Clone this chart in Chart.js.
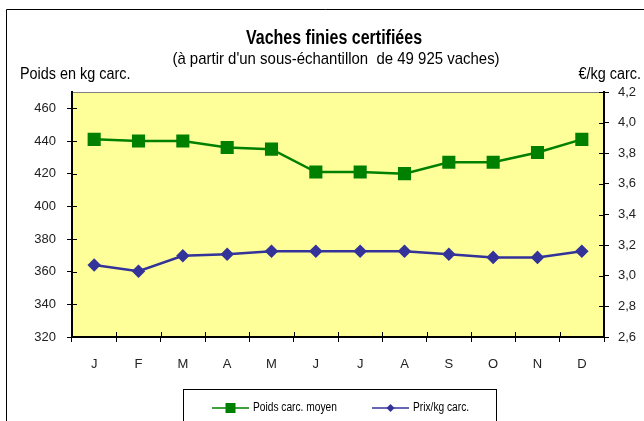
<!DOCTYPE html>
<html>
<head>
<meta charset="utf-8">
<script src="https://cdn.jsdelivr.net/npm/chart.js@4"></script>
<style>
  html, body { margin: 0; padding: 0; background: #fff; }
  #wrap { width: 644px; height: 421px; }
</style>
</head>
<body>
<div id="wrap"><canvas id="chart1" width="644" height="421"></canvas></div>
<script>
const months = ["J", "F", "M", "A", "M", "J", "J", "A", "S", "O", "N", "D"];
const poids = [441, 440, 440, 436, 435, 421, 421, 420, 427, 427, 433, 441];
const prix = [3.07, 3.03, 3.13, 3.14, 3.16, 3.16, 3.16, 3.16, 3.14, 3.12, 3.12, 3.16];
const labelPoids = "Poids carc. moyen";
const labelPrix = "Prix/kg carc.";

const FONT = "'Liberation Sans', Arial, sans-serif";

function comma(v) {
  return v.toFixed(1).replace(".", ",");
}

// texte resserré (police étroite simulée)
function narrowText(ctx, text, x, y, sx) {
  ctx.save();
  ctx.translate(x, y);
  ctx.scale(sx, 1);
  ctx.fillText(text, 0, 0);
  ctx.restore();
}

// fond jaune, cadre, titres et légende
const decor = {
  id: "decor",
  beforeDraw(chart) {
    const ctx = chart.ctx;
    const a = chart.chartArea;
    ctx.save();
    ctx.fillStyle = "#fff";
    ctx.fillRect(0, 0, chart.width, chart.height);
    ctx.fillStyle = "#FFFF99";
    ctx.fillRect(a.left, a.top, a.right - a.left, a.bottom - a.top);
    ctx.strokeStyle = "#808080";
    ctx.lineWidth = 1;
    ctx.beginPath();
    ctx.moveTo(a.left, a.top + 0.5);
    ctx.lineTo(a.right, a.top + 0.5);
    ctx.stroke();
    ctx.restore();
  },
  afterDraw(chart) {
    const ctx = chart.ctx;
    const a = chart.chartArea;
    ctx.save();

    // petites graduations côté intérieur (graduations croisées)
    ctx.strokeStyle = "#000";
    ctx.lineWidth = 1;
    ctx.beginPath();
    const sy = chart.scales.y, sy1 = chart.scales.y1, sx = chart.scales.x;
    sy.ticks.forEach((t, i) => {
      const py = Math.round(sy.getPixelForTick(i)) + 0.5;
      ctx.moveTo(a.left, py); ctx.lineTo(a.left + 5, py);
    });
    sy1.ticks.forEach((t, i) => {
      const py = Math.round(sy1.getPixelForTick(i)) + 0.5;
      ctx.moveTo(a.right - 5, py); ctx.lineTo(a.right, py);
    });
    const half = (sx.getPixelForTick(1) - sx.getPixelForTick(0)) / 2;
    for (let i = 0; i <= sx.ticks.length; i++) {
      const px = Math.round(sx.getPixelForTick(0) - half + i * half * 2) + 0.5;
      ctx.moveTo(px, a.bottom - 5); ctx.lineTo(px, a.bottom);
    }
    ctx.stroke();

    // cadre extérieur
    ctx.beginPath();
    ctx.moveTo(6.5, chart.height);
    ctx.lineTo(6.5, 9.5);
    ctx.lineTo(chart.width, 9.5);
    ctx.stroke();

    ctx.fillStyle = "#000";
    ctx.textBaseline = "alphabetic";
    ctx.textAlign = "center";
    ctx.font = "bold 20px " + FONT;
    narrowText(ctx, "Vaches finies certifiées", 334, 44, 0.8);
    ctx.font = "17px " + FONT;
    narrowText(ctx, "(à partir d'un sous-échantillon  de 49 925 vaches)", 336, 64, 0.88);
    ctx.font = "16px " + FONT;
    ctx.textAlign = "left";
    narrowText(ctx, "Poids en kg carc.", 20, 79, 0.9);
    ctx.textAlign = "right";
    narrowText(ctx, "€/kg carc.", 641, 79, 0.9);

    // légende
    ctx.strokeStyle = "#000";
    ctx.lineWidth = 1;
    ctx.strokeRect(183.5, 389.5, 313, 40);
    const items = [
      { ds: chart.data.datasets[0], x: 212 },
      { ds: chart.data.datasets[1], x: 372 }
    ];
    ctx.font = "12px " + FONT;
    ctx.textAlign = "left";
    ctx.textBaseline = "middle";
    items.forEach(it => {
      const y = 408;
      ctx.strokeStyle = it.ds.borderColor;
      ctx.lineWidth = 1.5;
      ctx.beginPath();
      ctx.moveTo(it.x, y);
      ctx.lineTo(it.x + 37, y);
      ctx.stroke();
      ctx.fillStyle = it.ds.pointBackgroundColor;
      const cx = it.x + 18.5;
      if (it.ds.pointStyle === "rect") {
        ctx.fillRect(cx - 5, y - 5, 10, 10);
      } else {
        ctx.beginPath();
        ctx.moveTo(cx, y - 4);
        ctx.lineTo(cx + 4, y);
        ctx.lineTo(cx, y + 4);
        ctx.lineTo(cx - 4, y);
        ctx.closePath();
        ctx.fill();
      }
      ctx.fillStyle = "#000";
      narrowText(ctx, it.ds.label, it.x + 41, y, 0.85);
    });
    ctx.restore();
  }
};

const ctx = document.getElementById("chart1").getContext("2d");
const chart = new Chart(ctx, {
  type: "line",
  data: {
    labels: months,
    datasets: [{
      label: labelPoids,
      data: poids,
      yAxisID: "y",
      borderColor: "#008000",
      backgroundColor: "#008000",
      pointBackgroundColor: "#008000",
      pointBorderColor: "#008000",
      pointStyle: "rect",
      pointRadius: 7.5,
      borderWidth: 2.5,
      tension: 0
    }, {
      label: labelPrix,
      data: prix,
      yAxisID: "y1",
      borderColor: "#333399",
      backgroundColor: "#333399",
      pointBackgroundColor: "#333399",
      pointBorderColor: "#333399",
      pointStyle: "rectRot",
      pointRadius: 5,
      borderWidth: 2.5,
      tension: 0
    }]
  },
  options: {
    responsive: false,
    animation: false,
    layout: { padding: { top: 92, left: 0, right: 0, bottom: 0 } },
    plugins: {
      legend: { display: false },
      title: { display: false },
      tooltip: { enabled: false }
    },
    scales: {
      x: {
        offset: true,
        afterFit(s) { s.height = 84; },
        grid: {
          offset: true,
          drawOnChartArea: false,
          tickLength: 5,
          color: "#000",
          tickWidth: 1
        },
        border: { color: "#000", width: 2 },
        ticks: {
          color: "#222",
          padding: 15,
          maxRotation: 0,
          font: { family: FONT, size: 13 }
        }
      },
      y: {
        position: "left",
        min: 320,
        max: 470,
        afterFit(s) { s.width = 72; },
        afterBuildTicks(s) { s.ticks = s.ticks.filter(t => t.value <= 460); },
        grid: { drawOnChartArea: false, tickLength: 5, color: "#000" },
        border: { color: "#000", width: 2 },
        ticks: {
          stepSize: 20,
          color: "#222",
          padding: 11,
          font: { family: FONT, size: 13 }
        }
      },
      y1: {
        position: "right",
        min: 2.6,
        max: 4.2,
        afterFit(s) { s.width = 40; },
        grid: { drawOnChartArea: false, tickLength: 5, color: "#000" },
        border: { color: "#000", width: 2 },
        ticks: {
          stepSize: 0.2,
          color: "#222",
          padding: 9,
          font: { family: FONT, size: 13 },
          callback: v => comma(v)
        }
      }
    }
  },
  plugins: [decor]
});
</script>
</body>
</html>
